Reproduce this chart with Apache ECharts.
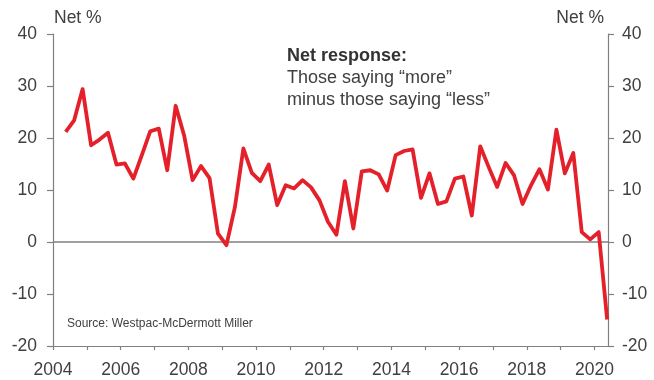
<!DOCTYPE html>
<html>
<head>
<meta charset="utf-8">
<style>
  html, body { margin: 0; padding: 0; background: #fff; }
  #chart { width: 654px; height: 380px; }
</style>
<script src="https://cdn.jsdelivr.net/npm/echarts@6/dist/echarts.min.js"></script>
</head>
<body>
<div id="chart"></div>
<script>
// Quarterly net response (%), starting in 2004 Q2
const firstYear = 2004;
const firstQuarter = 2;
const netResponse = [
  21.2, 23.4, 29.4, 18.6, 19.7, 21.0, 14.9, 15.1, 12.2, 16.7,
  21.3, 21.8, 13.8, 26.2, 20.5, 11.9, 14.6, 12.3, 1.6, -0.6,
  6.7, 18.0, 13.3, 11.7, 14.9, 7.1, 10.9, 10.3, 11.9, 10.5,
  8.0, 3.9, 1.4, 11.7, 2.6, 13.6, 13.8, 13.0, 9.9, 16.7,
  17.5, 17.8, 8.5, 13.2, 7.3, 7.8, 12.2, 12.6, 5.1, 18.4,
  14.4, 10.6, 15.2, 12.8, 7.3, 10.9, 14.0, 10.1, 21.6, 13.2,
  17.1, 1.9, 0.5, 1.9, -14.9
];
const yearTicks = [2004, 2005, 2006, 2007, 2008, 2009, 2010, 2011, 2012, 2013,
                   2014, 2015, 2016, 2017, 2018, 2019, 2020];
const yearLabels = [2004, 2006, 2008, 2010, 2012, 2014, 2016, 2018, 2020];
const yTickLabels = [-20, -10, 0, 10, 20, 30, 40];

const textColor = '#404040';
const axisColor = '#808080';
const lineColor = '#e4202a';
const fontFamily = 'Liberation Sans, Arial, sans-serif';

// place each quarter at the middle of its three months
const points = netResponse.map((v, i) => {
  const q = firstQuarter - 1 + i;
  const x = firstYear + Math.floor(q / 4) + (q % 4) * 0.25 + 0.125;
  return [x, v];
});

const yAxisBase = {
  type: 'value',
  min: yTickLabels[0],
  max: yTickLabels[yTickLabels.length - 1],
  interval: 10,
  axisLine: { show: true, lineStyle: { color: axisColor, width: 1.2 } },
  axisTick: { show: true, length: 6, lineStyle: { color: axisColor, width: 1.2 } },
  splitLine: { show: false },
  axisLabel: { color: textColor, fontSize: 17.5, fontFamily: fontFamily }
};

const chart = echarts.init(document.getElementById('chart'), null, { renderer: 'canvas' });
chart.setOption({
  animation: false,
  backgroundColor: '#ffffff',
  grid: { left: 53, right: 46, top: 34, bottom: 34 },
  xAxis: {
    type: 'value',
    min: 2004,
    max: 2020.4,
    axisLine: { show: true, onZero: false, lineStyle: { color: axisColor, width: 1.2 } },
    axisTick: { show: true, length: 4, customValues: yearTicks, lineStyle: { color: axisColor, width: 1.2 } },
    axisLabel: {
      customValues: yearLabels,
      color: textColor, fontSize: 17.5, fontFamily: fontFamily, margin: 15,
      formatter: v => String(v)
    },
    splitLine: { show: false }
  },
  yAxis: [
    Object.assign({}, yAxisBase, { position: 'left', axisLabel: Object.assign({}, yAxisBase.axisLabel, { margin: 16 }) }),
    Object.assign({}, yAxisBase, { position: 'right', axisLabel: Object.assign({}, yAxisBase.axisLabel, { margin: 14 }) })
  ],
  series: [{
    type: 'line',
    data: points,
    showSymbol: false,
    lineStyle: { color: lineColor, width: 3.8, join: 'round' },
    z: 3,
    markLine: {
      silent: true,
      symbol: ['none', 'none'],
      label: { show: false },
      lineStyle: { color: axisColor, width: 1.6, type: 'solid' },
      data: [{ yAxis: 0 }],
      z: 2
    }
  }],
  graphic: [
    { type: 'text', left: 54, top: 9, style: { text: 'Net %', fill: textColor, font: '17.5px ' + fontFamily } },
    { type: 'text', right: 50, top: 9, style: { text: 'Net %', fill: textColor, font: '17.5px ' + fontFamily } },
    { type: 'text', left: 287, top: 47, style: { text: 'Net response:', fill: '#333333', font: 'bold 18px ' + fontFamily } },
    { type: 'text', left: 287, top: 69, style: { text: 'Those saying “more”', fill: textColor, font: '18px ' + fontFamily } },
    { type: 'text', left: 287, top: 91, style: { text: 'minus those saying “less”', fill: textColor, font: '18px ' + fontFamily } },
    { type: 'text', left: 67, top: 318, style: { text: 'Source: Westpac-McDermott Miller', fill: textColor, font: '12px ' + fontFamily } }
  ]
});
</script>
</body>
</html>
